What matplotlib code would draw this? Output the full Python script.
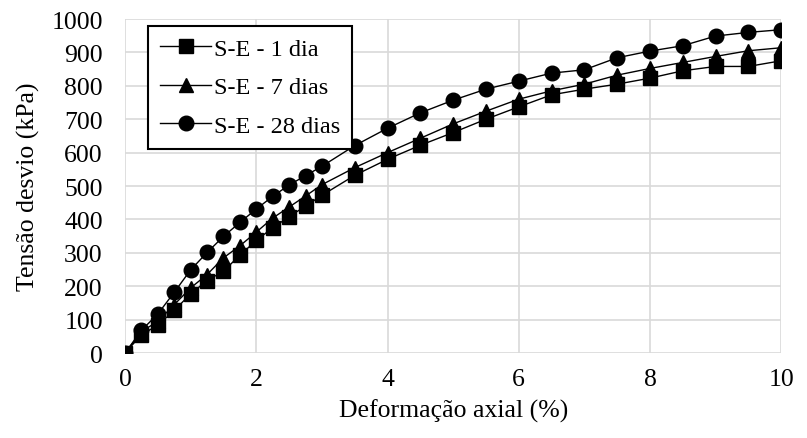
import numpy as np
import matplotlib.pyplot as plt

# deformação axial (%)
strain = [0, 0.25, 0.5, 0.75, 1, 1.25, 1.5, 1.75, 2, 2.25, 2.5, 2.75, 3,
          3.5, 4, 4.5, 5, 5.5, 6, 6.5, 7, 7.5, 8, 8.5, 9, 9.5, 10]

# tensão desvio (kPa)
se_1dia = [0, 55, 83, 128, 177, 217, 245, 293, 337, 375, 408, 440, 472,
           532, 580, 622, 660, 700, 737, 773, 790, 805, 823, 845, 858, 858, 875]
se_7dias = [0, 64, 95, 145, 195, 235, 285, 321, 362, 404, 437, 470, 504,
            555, 600, 643, 686, 724, 760, 785, 805, 832, 852, 870, 888, 905, 914]
se_28dias = [0, 68, 117, 182, 249, 301, 349, 391, 431, 469, 503, 531, 559,
             621, 673, 719, 757, 790, 814, 838, 848, 884, 904, 920, 949, 960, 968]

plt.rcParams['font.family'] = ['Liberation Serif', 'DejaVu Serif']
fs = 18.5

fig = plt.figure(figsize=(8.07, 4.39), dpi=100)
ax = fig.add_axes([0.155, 0.1936, 0.813, 0.7608])

ax.plot(strain, se_1dia, color='black', lw=1, marker='s', ms=10, label='S-E - 1 dia', zorder=3)
ax.plot(strain, se_7dias, color='black', lw=1, marker='^', ms=10.5, label='S-E - 7 dias', zorder=3)
ax.plot(strain, se_28dias, color='black', lw=1, marker='o', ms=10.5, label='S-E - 28 dias', zorder=3)

ax.set_xlim(0, 10)
ax.set_ylim(0, 1000)
ax.set_xticks(np.arange(0, 11, 2))
ax.set_yticks(np.arange(0, 1001, 100))
ax.grid(True, color='#d9d9d9', lw=1.2)
ax.set_axisbelow(True)
for s in ax.spines.values():
    s.set_visible(False)
ax.tick_params(length=0, labelsize=fs)
ax.tick_params(axis='y', pad=16)
ax.tick_params(axis='x', pad=11)

ax.set_xlabel('Deformação axial (%)', fontsize=fs, labelpad=6)
ax.set_ylabel('Tensão desvio (kPa)', fontsize=fs, labelpad=8)

leg = ax.legend(loc='upper left', bbox_to_anchor=(0.035, 0.98), fontsize=17.5,
                frameon=True, fancybox=False, edgecolor='black', framealpha=1,
                handlelength=2.1, borderpad=0.5, labelspacing=0.68, handletextpad=0.1,
                borderaxespad=0)
leg.get_frame().set_linewidth(1.5)

fig.savefig('out.png', dpi=100)
